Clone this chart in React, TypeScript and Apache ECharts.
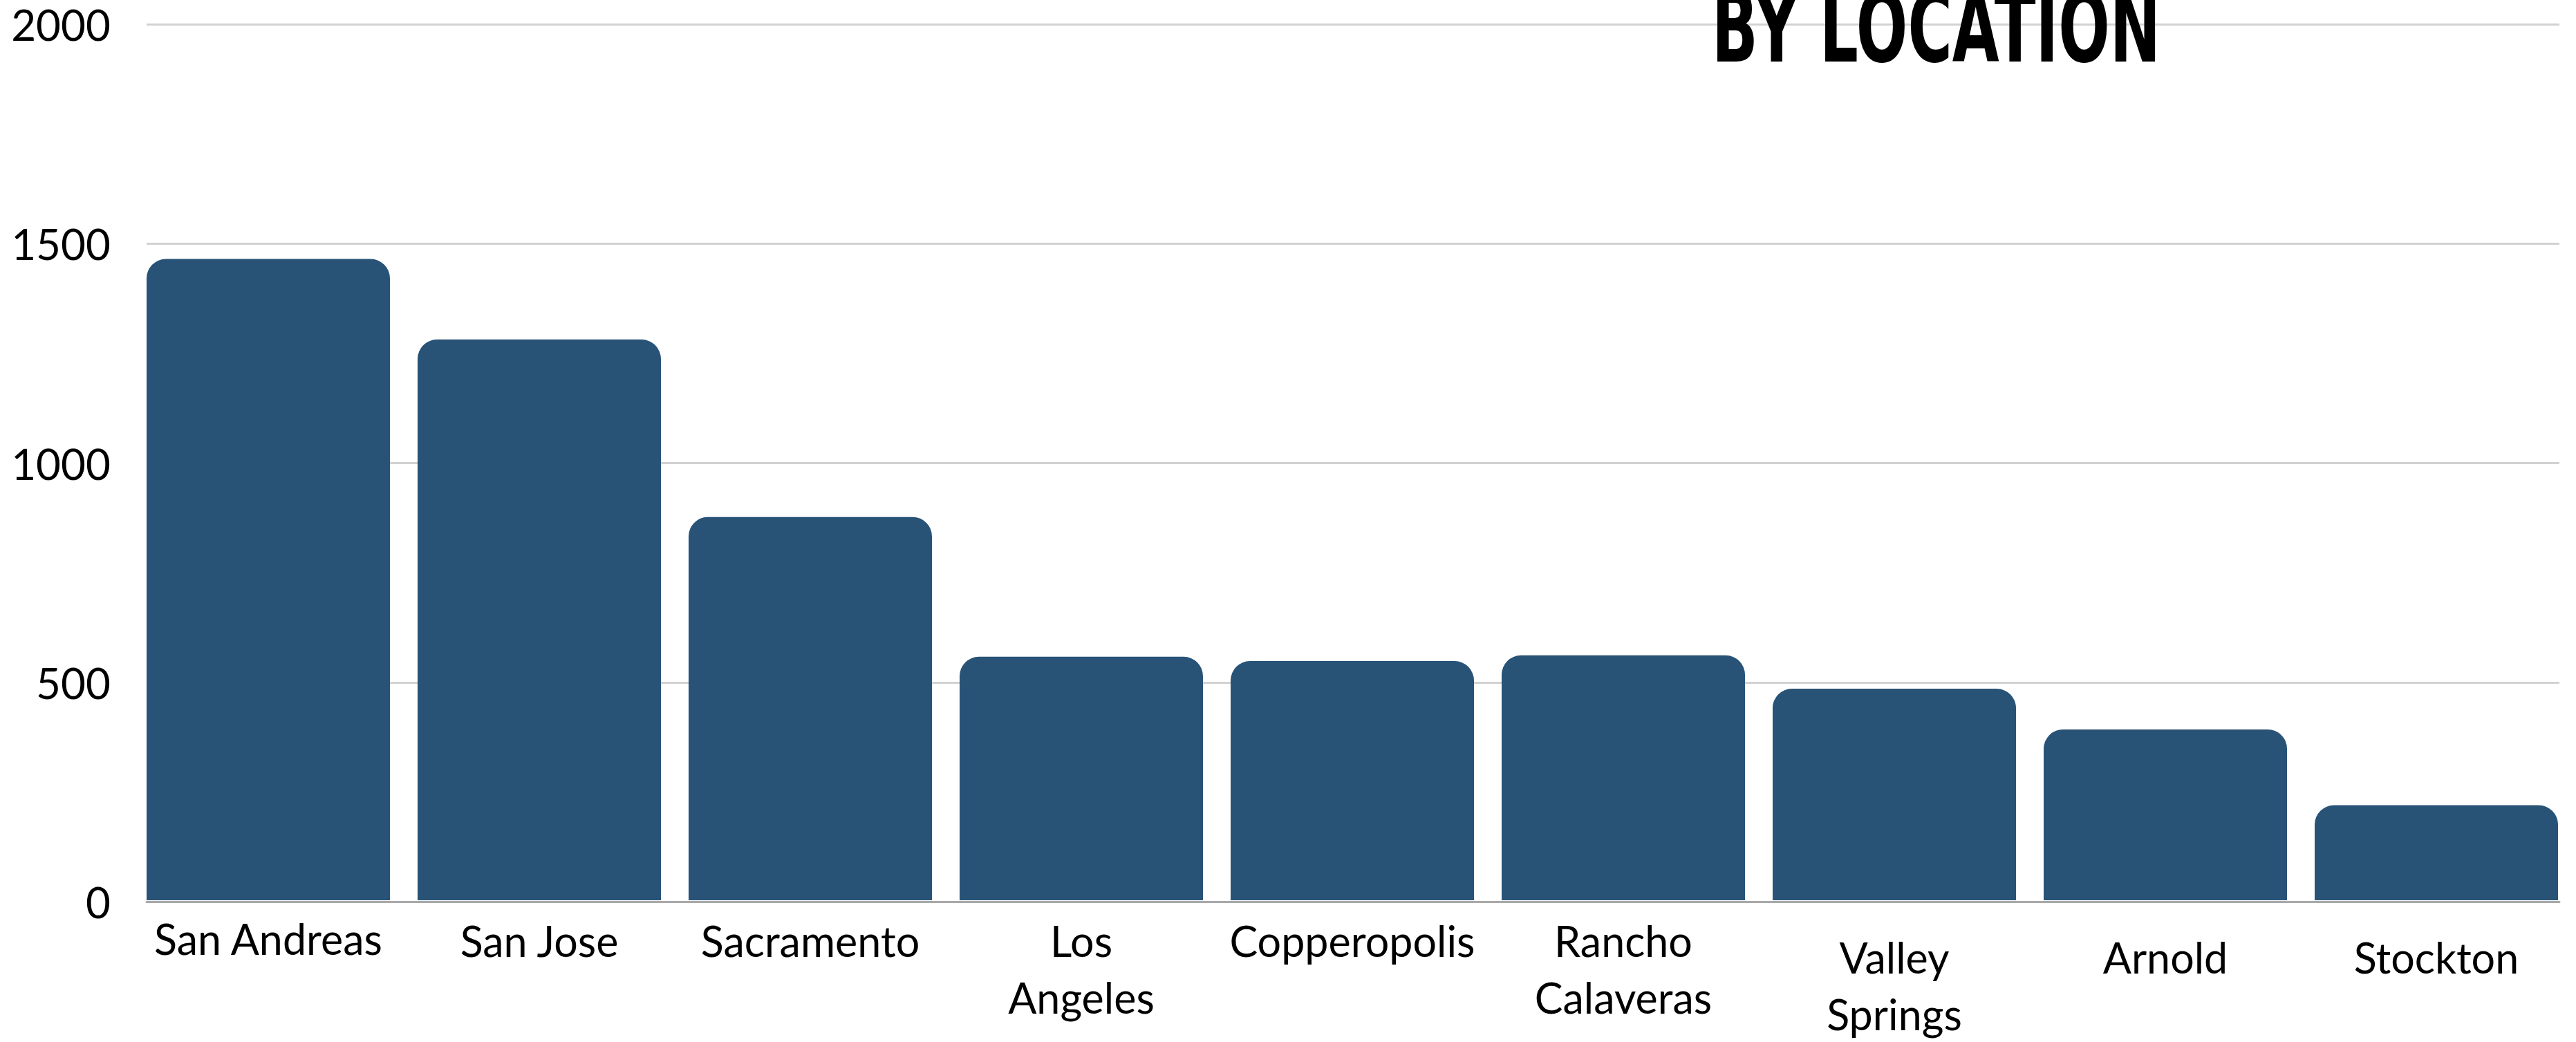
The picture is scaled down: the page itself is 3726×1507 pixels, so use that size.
import React, { useEffect, useRef } from "react";
import * as echarts from "echarts";

const categories = [
  "San Andreas",
  "San Jose",
  "Sacramento",
  "Los\nAngeles",
  "Copperopolis",
  "Rancho\nCalaveras",
  "Valley\nSprings",
  "Arnold",
  "Stockton",
];
const values = [1464, 1280, 875, 556, 546, 559, 483, 390, 217];
const labelOffsets = [-3, 0, 0, 0, 0, 0, 24, 24, 24];
const yTicks = { min: 0, max: 2000, interval: 500 };
const titleText = "BY LOCATION";

export default function App() {
  const ref = useRef<HTMLDivElement>(null);
  useEffect(() => {
    if (!ref.current) return;
    const chart = echarts.init(ref.current, undefined, { renderer: "svg" });
    const labelFont = "Lato, 'Noto Sans', sans-serif";
    chart.setOption({
      animation: false,
      backgroundColor: "#ffffff",
      grid: [
        { left: 192, right: 6, top: 35, bottom: 203, containLabel: false },
        { left: 212, right: 24, top: 35, bottom: 203, containLabel: false },
      ],
      xAxis: [
        {
          type: "category",
          gridIndex: 0,
          data: categories.map((c, i) => ({
            value: c,
            textStyle: { padding: [Math.max(0, labelOffsets[i] + 3), 0, 0, 0] },
          })),
          axisLine: { show: false },
          axisTick: { show: false },
          axisLabel: {
            interval: 0,
            margin: 14,
            fontSize: 61,
            lineHeight: 82,
            color: "#000000",
            fontFamily: labelFont,
            align: "center",
          },
        },
        {
          type: "value",
          gridIndex: 1,
          min: 0,
          max: 1,
          axisLine: { show: true, lineStyle: { color: "#a9a9a9", width: 3 } },
          axisTick: { show: false },
          axisLabel: { show: false },
          splitLine: { show: false },
        },
      ],
      yAxis: [
        {
          type: "value",
          gridIndex: 0,
          min: yTicks.min,
          max: yTicks.max,
          interval: yTicks.interval,
          show: false,
          splitLine: { show: false },
        },
        {
          type: "value",
          gridIndex: 1,
          min: yTicks.min,
          max: yTicks.max,
          interval: yTicks.interval,
          axisLine: { show: false },
          axisTick: { show: false },
          axisLabel: {
            margin: 52,
            fontSize: 62,
            lineHeight: 62,
            color: "#000000",
            fontFamily: labelFont,
            formatter: (v: number) => String(v),
          },
          splitLine: { show: true, lineStyle: { color: "#d2d2d2", width: 3 } },
        },
      ],
      series: [
        {
          type: "bar",
          xAxisIndex: 0,
          yAxisIndex: 0,
          data: values,
          barWidth: 352,
          itemStyle: { color: "#285377", borderRadius: [28, 28, 0, 0] },
          z: 3,
        },
      ],
      graphic: [
        {
          type: "text",
          x: 2476,
          y: 40,
          scaleX: 0.622,
          z: 10,
          style: {
            text: titleText,
            fontFamily: "'DejaVu Sans', sans-serif",
            fontWeight: "bold",
            fontSize: 141,
            fill: "#000000",
            textAlign: "left",
            textVerticalAlign: "middle",
          },
        },
      ],
    });
    return () => chart.dispose();
  }, []);
  return (
    <div
      ref={ref}
      style={{ position: "absolute", left: 0, top: 0, width: 3726, height: 1507 }}
    />
  );
}
